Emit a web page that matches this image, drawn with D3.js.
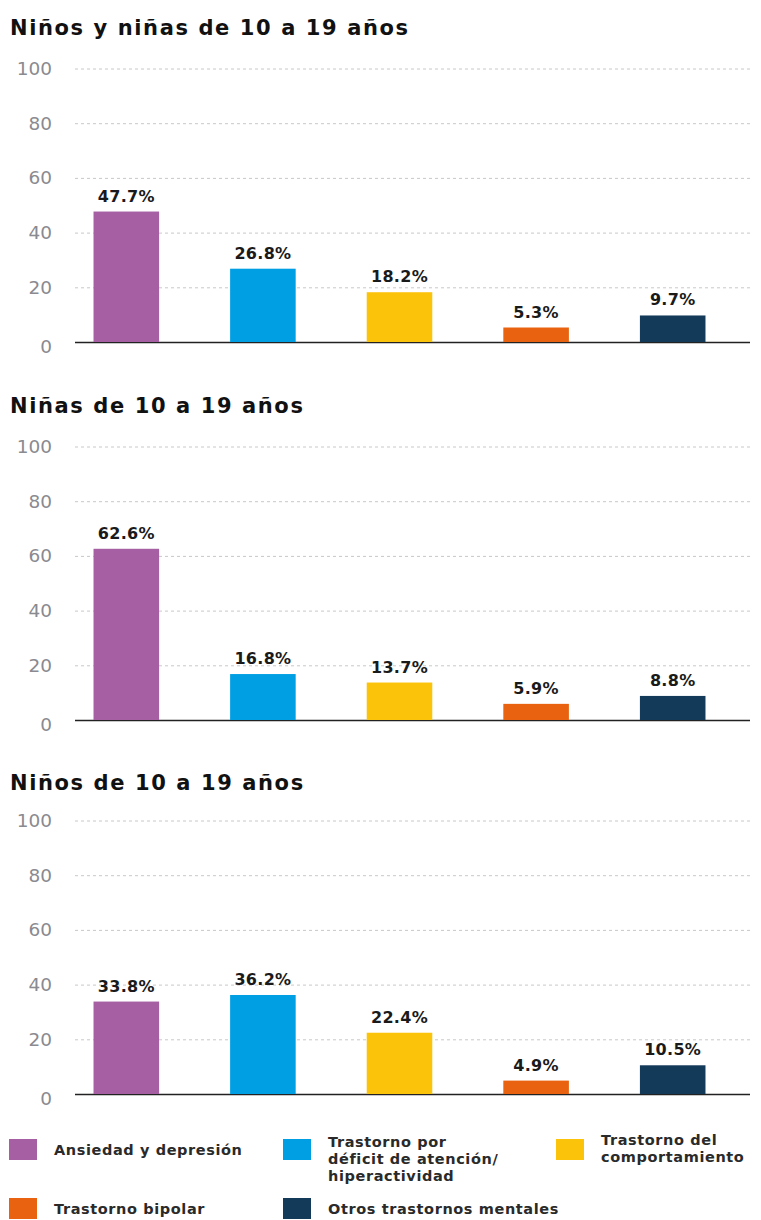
<!DOCTYPE html>
<html>
  <head>
    <meta charset="utf-8">
    <title>Trastornos mentales 10-19</title>
    <script src="https://d3js.org/d3.v7.min.js"></script>
    <style>
      body { margin: 0; background: #fff; }
      text { font-family: "DejaVu Sans", "Liberation Sans", Arial, sans-serif; }
    </style>
  </head>
  <body>
    <script>
    var w = 761;
    var h = 1220;

    var categories = ["Ansiedad y depresión", "Trastorno por déficit de atención/hiperactividad",
                      "Trastorno del comportamiento", "Trastorno bipolar", "Otros trastornos mentales"];
    var colors = ["#a55fa2", "#009fe3", "#fcc30b", "#e8620f", "#143a5a"];
    var yTicks = [0, 20, 40, 60, 80, 100];

    var titles = ["Niños y niñas de 10 a 19 años", "Niñas de 10 a 19 años", "Niños de 10 a 19 años"];
    var todos = [47.7, 26.8, 18.2, 5.3, 9.7];
    var ninas = [62.6, 16.8, 13.7, 5.9, 8.8];
    var ninos = [33.8, 36.2, 22.4, 4.9, 10.5];
    var panels = [todos, ninas, ninos];
    var offsets = [0, 378, 752];

    var svg = d3.select("body").append("svg")
      .attr("width", w).attr("height", h);

    var x = d3.scaleBand().domain(d3.range(categories.length))
      .range([58, 741]).paddingInner(0.52).paddingOuter(0.26);

    panels.forEach(function(vals, i){
      var top = offsets[i];
      var g = svg.append("g").attr("transform", "translate(0," + top + ")");
      var y = d3.scaleLinear().domain([0, 100]).range([342, 68.5]);

      g.append("text")
        .attr("x", 10).attr("y", i === 2 ? 38 : 35)
        .attr("font-size", "21px").attr("font-weight", "bold").attr("fill", "#111")
        .attr("letter-spacing", "1.6px")
        .text(titles[i]);

      var ax = g.append("g").attr("transform", "translate(75,0)")
        .call(d3.axisLeft(y).tickValues(yTicks).tickSize(-675).tickPadding(23));
      ax.select(".domain").remove();
      ax.selectAll(".tick line")
        .attr("stroke", function(d){ return d === 0 ? "#222" : "#c8c8c8"; })
        .attr("stroke-width", function(d){ return d === 0 ? 1.5 : 1; })
        .attr("stroke-dasharray", function(d){ return d === 0 ? null : "3,3"; });
      ax.selectAll(".tick text")
        .attr("font-size", "18.5px").attr("fill", "#8a8a90")
        .attr("font-family", "'DejaVu Sans', sans-serif")
        .attr("dy", function(d){ return d === 0 ? "0.55em" : "0.32em"; });

      g.selectAll("rect.bar").data(vals).enter().append("rect")
        .attr("class", "bar")
        .attr("x", function(d, j){ return x(j); })
        .attr("y", function(d){ return y(d); })
        .attr("width", x.bandwidth())
        .attr("height", function(d){ return y(0) - y(d); })
        .attr("fill", function(d, j){ return colors[j]; });

      g.selectAll("text.val").data(vals).enter().append("text")
        .attr("class", "val")
        .attr("x", function(d, j){ return x(j) + x.bandwidth() / 2; })
        .attr("y", function(d){ return y(d) - 10; })
        .attr("text-anchor", "middle")
        .attr("font-size", "16px").attr("font-weight", "bold").attr("fill", "#1a1a1a")
        .attr("letter-spacing", "0.3px")
        .text(function(d){ return d.toFixed(1) + "%"; });
    });

    // legend
    var legendLines = [["Ansiedad y depresión"], ["Trastorno por", "déficit de atención/", "hiperactividad"],
                       ["Trastorno del", "comportamiento"], ["Trastorno bipolar"], ["Otros trastornos mentales"]];
    var legendPos = [[9, 1139], [283, 1139], [556, 1139], [9, 1198], [283, 1198]];

    var lg = svg.selectAll("g.leg").data(legendLines).enter().append("g")
      .attr("class", "leg")
      .attr("transform", function(d, i){ return "translate(" + legendPos[i][0] + "," + legendPos[i][1] + ")"; });
    lg.append("rect").attr("width", 28).attr("height", 21)
      .attr("fill", function(d, i){ return colors[i]; });
    lg.each(function(lines, i){
      var t = d3.select(this).append("text")
        .attr("x", 45)
        .attr("y", lines.length === 1 ? 16 : (i === 2 ? 6 : 8))
        .attr("font-size", "14.5px").attr("font-weight", "bold").attr("fill", "#2a2a2a")
        .attr("letter-spacing", "0.6px");
      t.selectAll("tspan").data(lines).enter().append("tspan")
        .attr("x", 45).attr("dy", function(d, k){ return k === 0 ? 0 : 17; })
        .text(function(d){ return d; });
    });
    </script>
  </body>
</html>
